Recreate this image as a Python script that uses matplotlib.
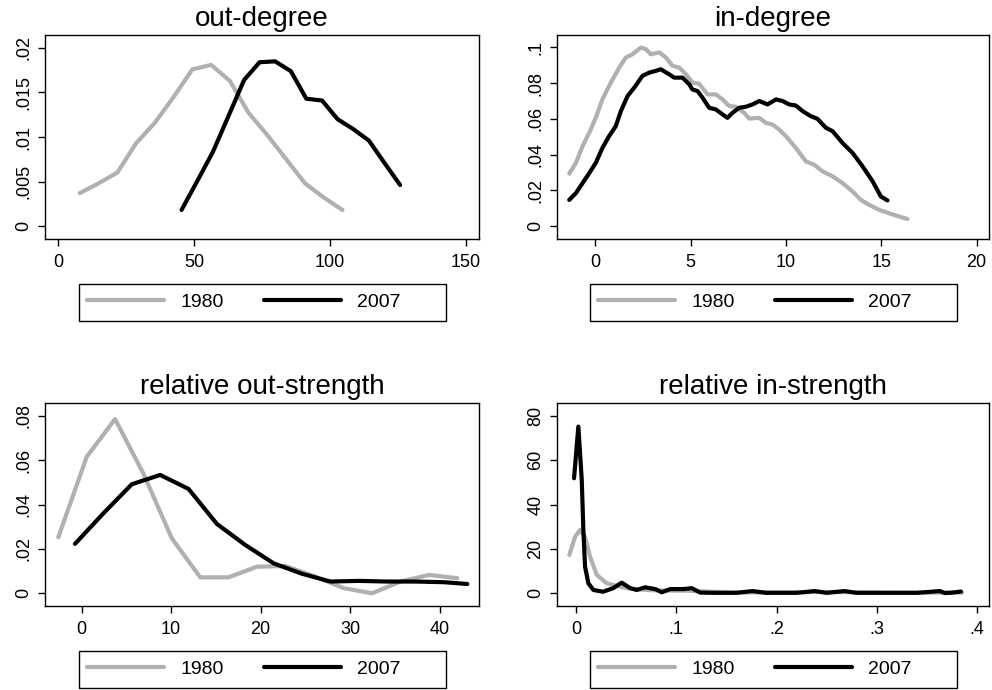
import matplotlib
matplotlib.use("Agg")
import matplotlib.pyplot as plt
from matplotlib.patches import Rectangle

plt.rcParams['font.family'] = ['Liberation Sans', 'DejaVu Sans']

# ---------------- data ----------------
# out-degree
od_x_1980 = [8.0, 14.9, 21.8, 28.7, 35.6, 42.5, 49.4, 56.3, 63.2, 70.1, 77.0, 83.9, 90.8, 97.7, 104.6]
od_y_1980 = [0.0037, 0.0048, 0.0060, 0.0093, 0.0116, 0.0145, 0.0176, 0.0181, 0.0163, 0.0127, 0.0102, 0.0075, 0.0048, 0.0032, 0.0018]
od_x_2007 = [45.4, 51.1, 56.9, 62.6, 68.4, 74.1, 79.8, 85.6, 91.3, 97.1, 102.8, 108.5, 114.3, 120.0, 125.8]
od_y_2007 = [0.0018, 0.0050, 0.0083, 0.0123, 0.0164, 0.0184, 0.0185, 0.0174, 0.0143, 0.0141, 0.0120, 0.0109, 0.0096, 0.0071, 0.0046]

# in-degree
id_x_1980 = [-1.36, -1.01, -0.66, -0.31, 0.03, 0.38, 0.82, 1.26, 1.61, 1.96, 2.40, 2.66, 2.92, 3.36, 3.71,
             4.06, 4.41, 4.76, 5.10, 5.45, 5.89, 6.33, 6.68, 7.03, 7.38, 7.81, 8.08, 8.60, 8.95, 9.30,
             9.65, 10.09, 10.52, 11.05, 11.49, 11.92, 12.45, 12.97, 13.50, 13.93, 14.37, 14.90, 15.42, 15.94, 16.38]
id_y_1980 = [0.0293, 0.0353, 0.0447, 0.0522, 0.0606, 0.0709, 0.0803, 0.0887, 0.0944, 0.0962, 0.1000, 0.0991, 0.0962, 0.0972, 0.0944,
             0.0897, 0.0887, 0.0850, 0.0803, 0.0797, 0.0737, 0.0737, 0.0709, 0.0672, 0.0668, 0.0634, 0.0602, 0.0606, 0.0578, 0.0568,
             0.0540, 0.0493, 0.0437, 0.0362, 0.0343, 0.0306, 0.0278, 0.0240, 0.0193, 0.0146, 0.0118, 0.0090, 0.0071, 0.0053, 0.0039]
id_x_2007 = [-1.36, -1.01, -0.66, -0.31, 0.03, 0.38, 0.73, 1.08, 1.35, 1.70, 2.05, 2.48, 2.83, 3.18, 3.44,
             3.88, 4.14, 4.58, 4.93, 5.10, 5.37, 5.63, 5.98, 6.33, 6.68, 6.94, 7.20, 7.55, 7.90, 8.25,
             8.60, 9.04, 9.48, 9.83, 10.17, 10.52, 10.87, 11.31, 11.66, 12.10, 12.45, 12.97, 13.50, 14.02, 14.55,
             14.98, 15.33]
id_y_2007 = [0.0146, 0.0184, 0.0240, 0.0296, 0.0353, 0.0437, 0.0503, 0.0559, 0.0644, 0.0728, 0.0775, 0.0841, 0.0859, 0.0869, 0.0878,
             0.0850, 0.0831, 0.0831, 0.0794, 0.0765, 0.0756, 0.0719, 0.0662, 0.0653, 0.0625, 0.0606, 0.0634, 0.0662, 0.0668, 0.0681,
             0.0700, 0.0681, 0.0709, 0.0700, 0.0681, 0.0675, 0.0644, 0.0615, 0.0600, 0.0550, 0.0531, 0.0465, 0.0409, 0.0334, 0.0250,
             0.0165, 0.0143]

# relative out-strength
os_x_1980 = [-2.61, 0.56, 3.73, 6.90, 10.07, 13.25, 16.42, 19.59, 22.76, 25.93, 29.29, 32.46, 35.63, 38.81, 41.98]
os_y_1980 = [0.0253, 0.0616, 0.0786, 0.0540, 0.0248, 0.0072, 0.0072, 0.0120, 0.0123, 0.0078, 0.0023, 0.0000, 0.0053, 0.0083, 0.0068]
os_x_2007 = [-0.75, 2.43, 5.60, 8.77, 11.94, 15.11, 18.28, 21.46, 24.63, 27.80, 30.97, 34.14, 37.31, 40.49, 43.10]
os_y_2007 = [0.0223, 0.0361, 0.0492, 0.0534, 0.0471, 0.0313, 0.0218, 0.0135, 0.0088, 0.0053, 0.0056, 0.0053, 0.0053, 0.0050, 0.0042]

# relative in-strength
is_x_1980 = [-0.0067, -0.001, 0.004, 0.009, 0.014, 0.0207, 0.0306, 0.0506, 0.07, 0.09, 0.11, 0.13, 0.16, 0.2, 0.25, 0.3, 0.35, 0.385]
is_y_1980 = [17.3, 25.5, 28.6, 25.5, 16.5, 8.3, 4.5, 2.3, 1.5, 1.2, 1.2, 0.8, 0.4, 0.4, 0.6, 0.4, 0.3, 0.3]
is_x_2007 = [-0.002, 0.0023, 0.0057, 0.0073, 0.009, 0.0123, 0.0173, 0.027, 0.037, 0.0456, 0.054, 0.0606, 0.069, 0.079,
             0.0855, 0.094, 0.107, 0.1155, 0.124, 0.14, 0.16, 0.176, 0.19, 0.22, 0.238, 0.25, 0.268, 0.28, 0.31,
             0.34, 0.363, 0.368, 0.375, 0.384]
is_y_2007 = [51.9, 75.2, 51.1, 28.6, 12.0, 4.5, 1.5, 0.7, 2.3, 4.8, 2.3, 1.5, 2.7, 1.9,
             0.45, 1.9, 1.9, 2.3, 0.3, 0.2, 0.2, 1.0, 0.2, 0.2, 1.0, 0.2, 1.0, 0.2, 0.2,
             0.2, 1.0, 0.1, 0.3, 0.8]

titles = ["out-degree", "in-degree", "relative out-strength", "relative in-strength"]
series_labels = ["1980", "2007"]

od_xticks = [0, 50, 100, 150]; od_xlabels = ["0", "50", "100", "150"]
od_yticks = [0, 0.005, 0.01, 0.015, 0.02]; od_ylabels = ["0", ".005", ".01", ".015", ".02"]
id_xticks = [0, 5, 10, 15, 20]; id_xlabels = ["0", "5", "10", "15", "20"]
id_yticks = [0, 0.02, 0.04, 0.06, 0.08, 0.1]; id_ylabels = ["0", ".02", ".04", ".06", ".08", ".1"]
os_xticks = [0, 10, 20, 30, 40]; os_xlabels = ["0", "10", "20", "30", "40"]
os_yticks = [0, 0.02, 0.04, 0.06, 0.08]; os_ylabels = ["0", ".02", ".04", ".06", ".08"]
is_xticks = [0, 0.1, 0.2, 0.3, 0.4]; is_xlabels = ["0", ".1", ".2", ".3", ".4"]
is_yticks = [0, 20, 40, 60, 80]; is_ylabels = ["0", "20", "40", "60", "80"]

GRAY = "#b0b0b0"
BLACK = "#000000"
W, H = 992, 690

fig = plt.figure(figsize=(W / 100, H / 100), dpi=100)
fig.patch.set_facecolor("white")

def px_rect(x0, y0, x1, y1):
    return [x0 / W, 1 - y1 / H, (x1 - x0) / W, (y1 - y0) / H]

panels = [
    dict(rect=px_rect(45, 35, 479, 239), leg=(79, 284, 446, 321),
         x80=od_x_1980, y80=od_y_1980, x07=od_x_2007, y07=od_y_2007,
         xlim=(-4.8, 154.8), ylim=(-0.00146, 0.02146),
         xt=od_xticks, xl=od_xlabels, yt=od_yticks, yl=od_ylabels, title=titles[0]),
    dict(rect=px_rect(557, 35, 989, 239), leg=(590, 284, 957, 321),
         x80=id_x_1980, y80=id_y_1980, x07=id_x_2007, y07=id_y_2007,
         xlim=(-2.0, 20.65), ylim=(-0.0073, 0.107),
         xt=id_xticks, xl=id_xlabels, yt=id_yticks, yl=id_ylabels, title=titles[1]),
    dict(rect=px_rect(45, 402.7, 479, 605.7), leg=(79, 650.7, 446, 687.7),
         x80=os_x_1980, y80=os_y_1980, x07=os_x_2007, y07=os_y_2007,
         xlim=(-4.1, 44.4), ylim=(-0.0056, 0.086),
         xt=os_xticks, xl=os_xlabels, yt=os_yticks, yl=os_ylabels, title=titles[2]),
    dict(rect=px_rect(557, 402.7, 989, 605.7), leg=(590, 650.7, 957, 687.7),
         x80=is_x_1980, y80=is_y_1980, x07=is_x_2007, y07=is_y_2007,
         xlim=(-0.019, 0.412), ylim=(-5.6, 86),
         xt=is_xticks, xl=is_xlabels, yt=is_yticks, yl=is_ylabels, title=titles[3]),
]

for p in panels:
    ax = fig.add_axes(p["rect"])
    l1, = ax.plot(p["x80"], p["y80"], color=GRAY, lw=3.0, solid_joinstyle="round", solid_capstyle="round", label=series_labels[0])
    l2, = ax.plot(p["x07"], p["y07"], color=BLACK, lw=3.0, solid_joinstyle="round", solid_capstyle="round", label=series_labels[1])
    ax.set_xlim(*p["xlim"])
    ax.set_ylim(*p["ylim"])
    ax.set_xticks(p["xt"])
    ax.set_xticklabels(p["xl"])
    ax.set_yticks(p["yt"])
    ax.set_yticklabels(p["yl"], rotation=90, va="center")
    ax.tick_params(axis="both", direction="out", length=5, width=1.0, labelsize=13, pad=4)
    ax.tick_params(axis="x", pad=6)
    for s in ax.spines.values():
        s.set_linewidth(1.0)
    ax.set_title(p["title"], fontsize=20, pad=6.5)

    x0, y0, x1, y1 = p["leg"]
    rect = Rectangle((x0 / W, 1 - y1 / H), (x1 - x0) / W, (y1 - y0) / H,
                     transform=fig.transFigure, facecolor="white", edgecolor="black", lw=1.0, zorder=1)
    fig.add_artist(rect)
    leg = fig.legend(handles=[l1, l2], labels=series_labels, ncol=2, frameon=False,
                     fontsize=14, handlelength=3.97, handletextpad=0.82, columnspacing=2.06,
                     borderpad=0, borderaxespad=0, loc="center left",
                     bbox_to_anchor=((x0 + 8) / W, 1 - ((y0 + y1) / 2) / H))
    leg.set_zorder(2)

fig.savefig("out.png", dpi=100, facecolor="white")
